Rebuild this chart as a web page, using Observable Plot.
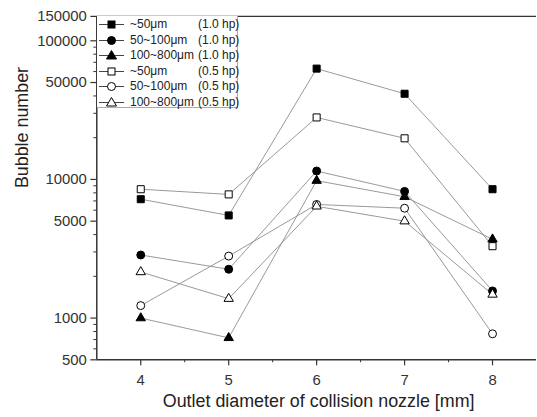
<!DOCTYPE html>
<html>
<head>
<meta charset="utf-8">
<script src="https://cdn.jsdelivr.net/npm/d3@7"></script>
<script src="https://cdn.jsdelivr.net/npm/@observablehq/plot@0.6"></script>
<style>
  html, body { margin: 0; padding: 0; background: #fff; overflow: hidden; }
  #wrap { position: relative; width: 537px; height: 417px; overflow: hidden; font-family: "Liberation Sans", Arial, sans-serif; }
  #legend { position: absolute; left: 97px; top: 16px; width: 141px; height: 92px; border: 1px solid #aaa; border-top: none; border-left: none; background: #fff; box-sizing: border-box; }
  .row { position: absolute; left: 0; height: 15px; width: 140px; font-size: 12px; color: #222; white-space: nowrap; }
  .row svg { position: absolute; left: 0; top: 0; }
  .row .n { position: absolute; left: 33px; top: 0; line-height: 15px; }
  .row .p { position: absolute; left: 101px; top: 0; line-height: 15px; }
</style>
</head>
<body>
<div id="wrap"><div id="chart"></div><div id="legend"></div></div>
<script>
// Data
const diameters = [4, 5, 6, 7, 8];
const seriesNames = ["~50μm (1.0 hp)", "50~100μm (1.0 hp)", "100~800μm (1.0 hp)", "~50μm (0.5 hp)", "50~100μm (0.5 hp)", "100~800μm (0.5 hp)"];
const sizeLabels = ["~50μm", "50~100μm", "100~800μm", "~50μm", "50~100μm", "100~800μm"];
const powerLabels = ["(1.0 hp)", "(1.0 hp)", "(1.0 hp)", "(0.5 hp)", "(0.5 hp)", "(0.5 hp)"];
const sq10 = [7200, 5500, 63000, 41500, 8500];
const ci10 = [2850, 2250, 11500, 8200, 1570];
const tr10 = [1000, 720, 9800, 7500, 3700];
const sq05 = [8500, 7800, 28000, 19800, 3300];
const ci05 = [1230, 2800, 6600, 6200, 770];
const tr05 = [2150, 1380, 6400, 5000, 1480];
const yMajorTicks = [500, 1000, 5000, 10000, 50000, 100000, 150000];
const xMajorTicks = [4, 5, 6, 7, 8];

const seriesValues = [sq10, ci10, tr10, sq05, ci05, tr05];
const shapes = ["square", "circle", "triangle", "square", "circle", "triangle"];
const fills = ["#000", "#000", "#000", "#fff", "#fff", "#fff"];
const radii = {square: 4, circle: 4, triangle: 3.5};

const data = [];
seriesNames.forEach((s, i) => {
  seriesValues[i].forEach((v, j) => {
    data.push({series: s, x: diameters[j], y: v, fill: fills[i], r: radii[shapes[i]]});
  });
});

const yMinor = [];
for (const d of [100, 1000, 10000, 100000]) for (let k = 2; k <= 9; k++) { const v = k * d; if (v > 500 && v < 150000 && !yMajorTicks.includes(v)) yMinor.push(v); }
const xMinor = [4.5, 5.5, 6.5, 7.5];
const blank = () => "";

const chart = Plot.plot({
  width: 541,
  height: 417,
  marginLeft: 97,
  marginRight: 1,
  marginTop: 16,
  marginBottom: 55,
  style: {fontFamily: "Liberation Sans, Arial, sans-serif", color: "#333", background: "#fff"},
  x: {domain: [3.5, 8.5]},
  y: {type: "log", domain: [500, 150000]},
  symbol: {domain: seriesNames, range: shapes},
  color: {type: "identity"},
  r: {type: "identity"},
  marks: [
    Plot.axisY(yMinor, {tickSize: 3, tickFormat: blank, label: null, strokeWidth: 1}),
    Plot.axisY(yMajorTicks, {tickSize: 6, tickFormat: blank, label: null, strokeWidth: 1.2}),
    Plot.text(yMajorTicks, {y: d => d, text: d => String(d), frameAnchor: "left", textAnchor: "end", dx: -10, fontSize: 15, fill: "#333"}),
    Plot.axisX(xMinor, {tickSize: 3, tickFormat: blank, label: null, strokeWidth: 1}),
    Plot.axisX(xMajorTicks, {tickSize: 6, tickPadding: 9, fontSize: 15, label: null, strokeWidth: 1.2}),
    Plot.ruleX([3.5], {stroke: "#333", strokeWidth: 1.5}),
    Plot.ruleY([500], {stroke: "#333", strokeWidth: 1.5}),
    Plot.ruleY([150000], {stroke: "#333", strokeWidth: 1.5}),
    Plot.line(data, {x: "x", y: "y", z: "series", stroke: "#8c8c8c", strokeWidth: 0.9}),
    Plot.dot(data, {x: "x", y: "y", symbol: "series", fill: "fill", stroke: "#000", strokeWidth: 1, r: "r"}),
    Plot.text(["Bubble number"], {text: d => d, frameAnchor: "left", dx: -75, rotate: -90, fontSize: 18, fill: "#222"}),
    Plot.text(["Outlet diameter of collision nozzle [mm]"], {text: d => d, frameAnchor: "bottom", dy: 48, dx: 2, fontSize: 18, fill: "#222"})
  ]
});
document.getElementById("chart").appendChild(chart);

// Legend
const legend = document.getElementById("legend");
const rowTops = [1, 16.5, 32, 47.5, 63, 78.5];
seriesNames.forEach((s, i) => {
  const row = document.createElement("div");
  row.className = "row";
  row.style.top = rowTops[i] + "px";
  let sym;
  if (shapes[i] === "square") sym = `<rect x="11" y="4" width="7" height="7" fill="${fills[i]}" stroke="#000" stroke-width="1"/>`;
  else if (shapes[i] === "circle") sym = `<circle cx="14.5" cy="7.5" r="4" fill="${fills[i]}" stroke="#000" stroke-width="1"/>`;
  else sym = `<path d="M14.5,2.5 L19.5,11 L9.5,11 Z" fill="${fills[i]}" stroke="#000" stroke-width="1"/>`;
  row.innerHTML = `<svg width="30" height="15"><line x1="2" x2="27" y1="7.5" y2="7.5" stroke="#444" stroke-width="1"/>${sym}</svg><span class="n">${sizeLabels[i]}</span><span class="p">${powerLabels[i]}</span>`;
  legend.appendChild(row);
});
</script>
</body>
</html>
